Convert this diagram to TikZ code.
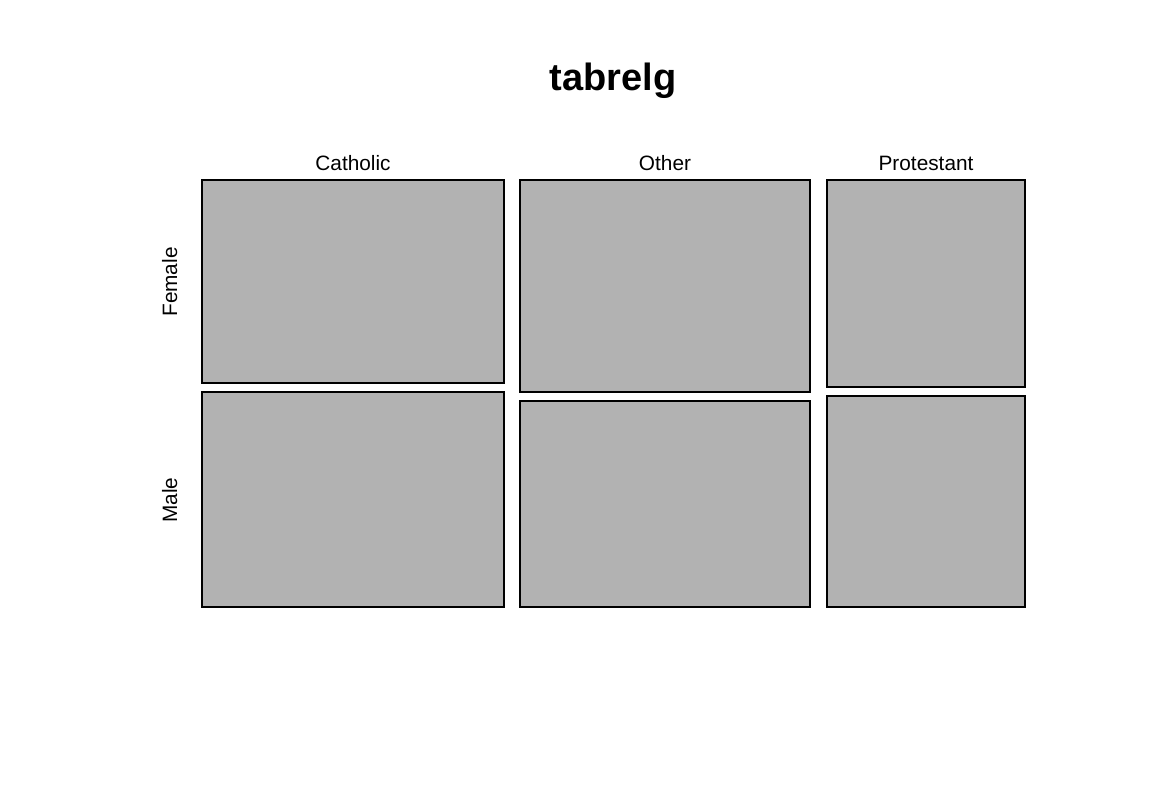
\documentclass[tikz,border=0pt]{standalone}
\usepackage{fontspec}
\setmainfont{Liberation Sans}
\usetikzlibrary{positioning}
\definecolor{cellgray}{gray}{0.7}

\begin{document}
\begin{tikzpicture}[x=0.75pt,y=-0.75pt,
        cell/.style 2 args={draw=black, fill=cellgray, line width=1.4pt, anchor=north west,
            inner sep=0pt, outer sep=0pt, minimum width=#1*0.75pt, minimum height=#2*0.75pt},
        collabel/.style={anchor=base},
        rowlabel/.style={anchor=base, rotate=90}]
        \tikzstyle{every node}=[font=\fontsize{15.6}{18}\selectfont]
            \useasboundingbox (0,0) rectangle (1152,806);
            \node[anchor=base, font=\bfseries\fontsize{28.5}{32}\selectfont] (title) at (613,91) {tabrelg};

            % cells, Female on top, Male below
            \node[cell={302}{203}] (catF) at (202,180) {};
            \node[cell={302}{215}] (catM) at (202,392) {};
            \node[cell={290}{212}] (othF) at (520,180) {};
            \node[cell={290}{206}] (othM) at (520,401) {};
            \node[cell={198}{207}] (proF) at (827,180) {};
            \node[cell={198}{211}] (proM) at (827,396) {};

            \node[collabel] (cath) at (353,171) {Catholic};
            \node[collabel] (othr) at (665,171) {Other};
            \node[collabel] (prot) at (926,171) {Protestant};

            \node[rowlabel] (female) at (177,282) {Female};
            \node[rowlabel] (male) at (177,500) {Male};
        \end{tikzpicture}
\end{document}
